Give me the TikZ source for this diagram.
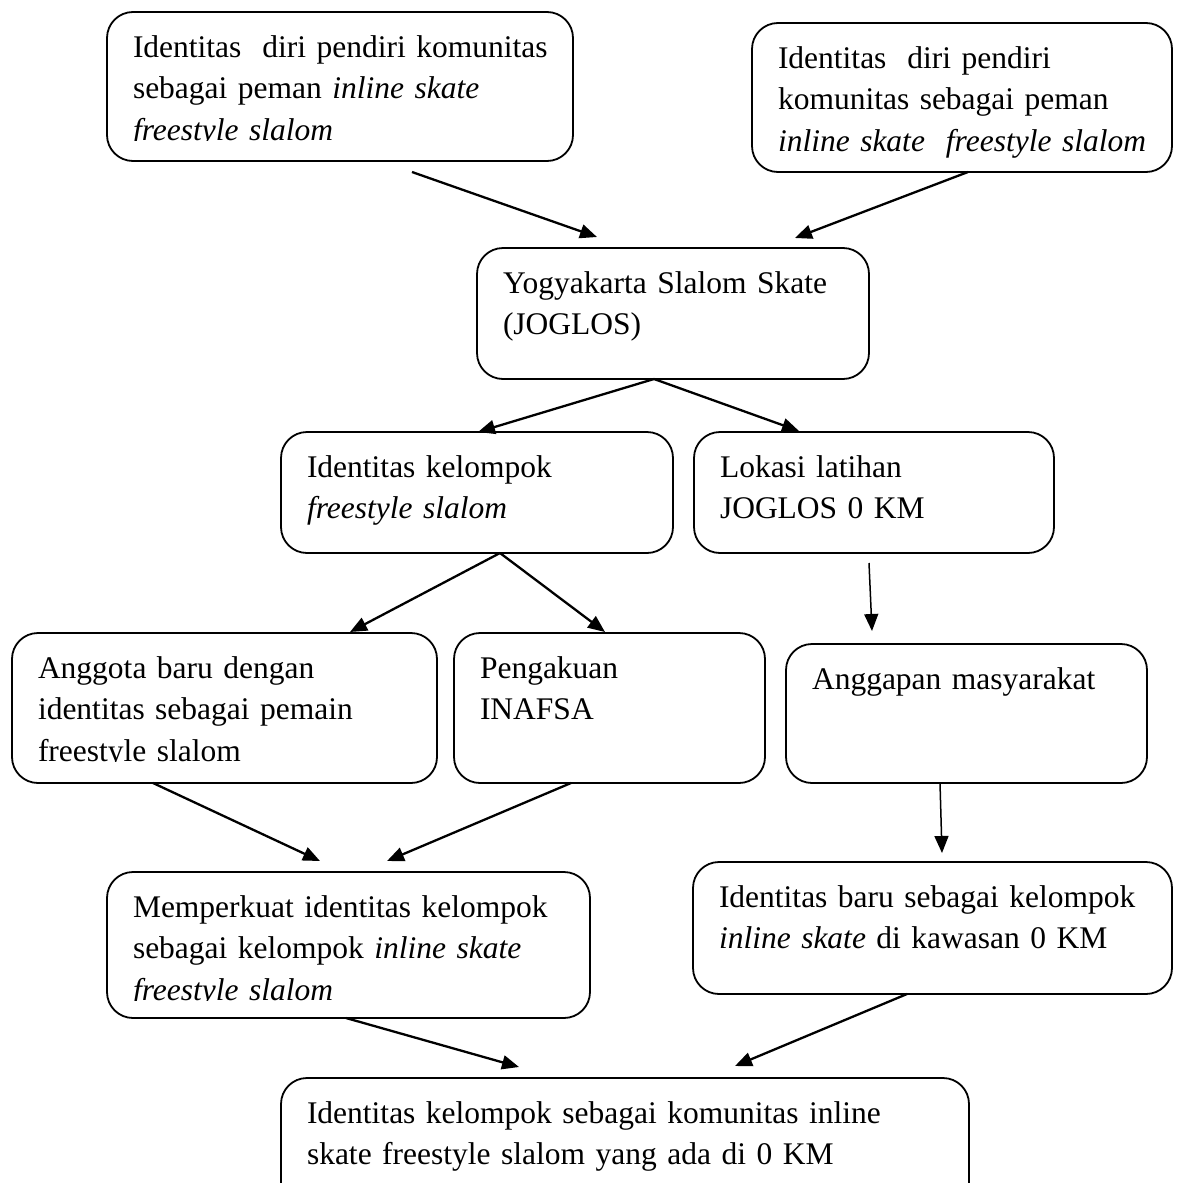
\documentclass[tikz,border=0pt]{standalone}
\usepackage{fontspec}
\setmainfont{Liberation Serif}
\usepackage{trimclip}
\usetikzlibrary{arrows.meta}

% last line of a box, cut at its baseline
\newcommand{\cutline}[1]{\clipbox{0pt {\depth} 0pt 0pt}{#1}}

\begin{document}
\begin{tikzpicture}[x=1pt,y=-1pt,>={Triangle[length=17pt,width=14pt]},
                    line join=round]
  \tikzstyle{textbox}=[draw,line width=1.8pt,rounded corners=26pt,
                       anchor=north west,align=left,inner xsep=26pt,
                       inner ysep=0pt,outer sep=0pt,text height=45pt,
                       font=\fontsize{31.5}{41.5}\selectfont]
  \tikzstyle{link}=[->,line width=2.3pt]
  \tikzstyle{thinlink}=[->,line width=1.5pt]

  \useasboundingbox (0,0) rectangle (1181,1183);
  \clip (0,0) rectangle (1181,1183);

  \node[textbox,text width=414pt,text depth=104pt] (Pl) at (107,12)
    {\mbox{Identitas\ \ diri pendiri komunitas}\\ sebagai peman \textit{inline skate}\\ \cutline{\textit{freestyle slalom}}};
  \node[textbox,text width=368pt,text depth=104pt] (Pr) at (752,23)
    {Identitas\ \ diri pendiri\\ komunitas sebagai peman\\ \mbox{\textit{inline skate\ \ freestyle slalom}}};
  \node[textbox,text width=340pt,text depth=86pt]  (JG) at (477,248)
    {Yogyakarta Slalom Skate\\ (JOGLOS)};
  \node[textbox,text width=340pt,text depth=76pt]  (IK) at (281,432)
    {Identitas kelompok\\ \textit{freestyle slalom}};
  \node[textbox,text width=308pt,text depth=76pt]  (LL) at (694,432)
    {Lokasi latihan\\ JOGLOS 0 KM};
  \node[textbox,text width=373pt,text depth=105pt] (AB) at (12,633)
    {Anggota baru dengan\\ identitas sebagai pemain\\ \cutline{freestyle slalom}};
  \node[textbox,text width=259pt,text depth=105pt] (PI) at (454,633)
    {Pengakuan\\ INAFSA};
  \node[textbox,text width=309pt,text depth=94pt]  (AM) at (786,644)
    {Anggapan masyarakat};
  \node[textbox,text width=431pt,text depth=101pt] (MI) at (107,872)
    {\mbox{Memperkuat identitas kelompok}\\ sebagai kelompok \textit{inline skate}\\ \cutline{\textit{freestyle slalom}}};
  \node[textbox,text width=427pt,text depth=87pt]  (IB) at (693,862)
    {\mbox{Identitas baru sebagai kelompok}\\ \textit{inline skate} di kawasan 0 KM};
  \node[textbox,text width=636pt,text depth=95pt]  (IKK) at (281,1078)
    {Identitas kelompok sebagai komunitas inline\\ skate freestyle slalom yang ada di 0 KM};

  % arrows between the boxes
  \draw[link] ([shift={(305,11)}]Pl.south west) -- ([shift={(120,-11)}]JG.north west);
  \draw[link] ([shift={(216,0)}]Pr.south west)  -- ([shift={(318,-10)}]JG.north west);
  \draw[link] ([shift={(177,0)}]JG.south west)  -- ([shift={(197,0)}]IK.north west);
  \draw[link] ([shift={(177,0)}]JG.south west)  -- ([shift={(105,-1)}]LL.north west);
  \draw[link] ([shift={(219,0)}]IK.south west)  -- ([shift={(338,-1)}]AB.north west);
  \draw[link] ([shift={(219,0)}]IK.south west)  -- ([shift={(151,-1)}]PI.north west);
  \draw[thinlink] ([shift={(175,10)}]LL.south west) -- ([shift={(86,-13)}]AM.north west);
  \draw[link] ([shift={(141,0)}]AB.south west)  -- ([shift={(213,-11)}]MI.north west);
  \draw[link] ([shift={(117,0)}]PI.south west)  -- ([shift={(280,-11)}]MI.north west);
  \draw[thinlink] ([shift={(154,0)}]AM.south west) -- ([shift={(249,-9)}]IB.north west);
  \draw[link] ([shift={(239,0)}]MI.south west)  -- ([shift={(238,-11)}]IKK.north west);
  \draw[link] ([shift={(214,0)}]IB.south west)  -- ([shift={(454,-12)}]IKK.north west);
\end{tikzpicture}
\end{document}
